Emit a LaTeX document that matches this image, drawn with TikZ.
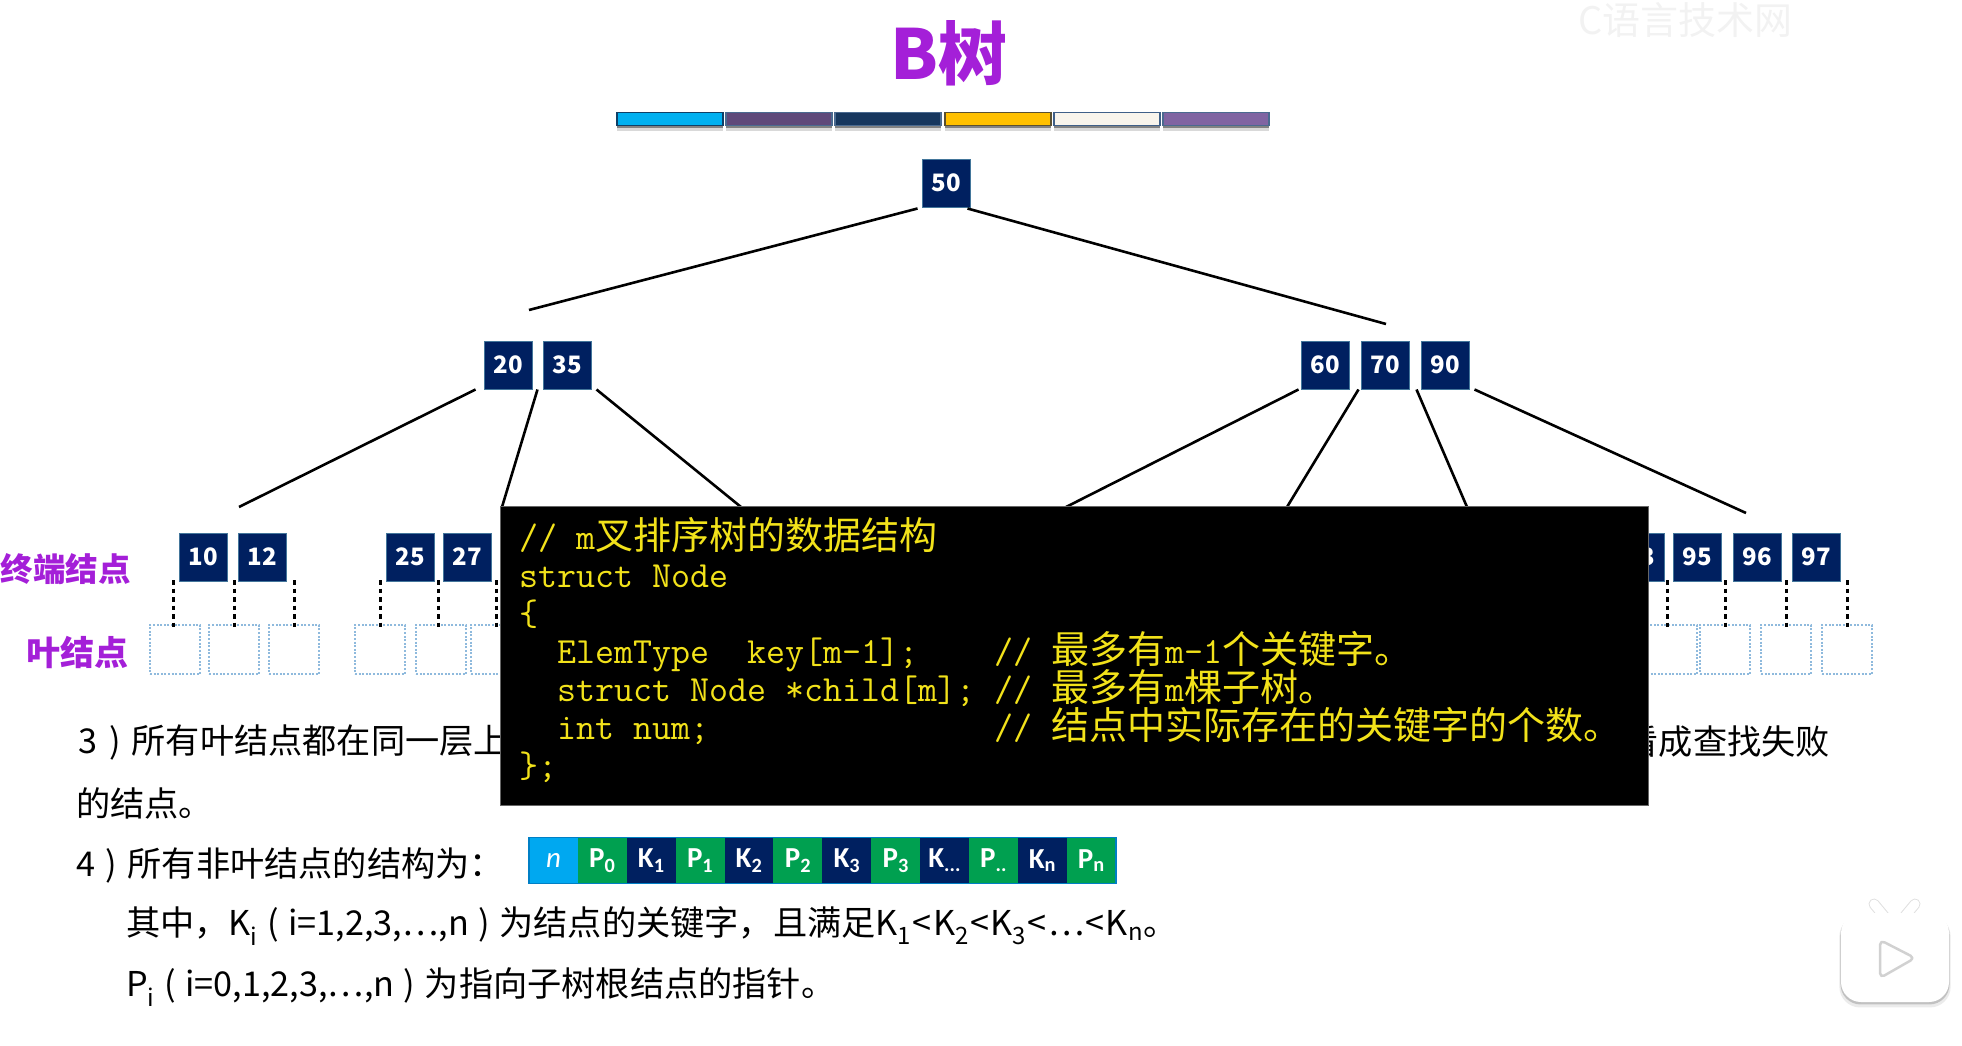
\documentclass[tikz,border=0pt]{standalone}
\usepackage{fontspec}
\setmainfont{Noto Sans CJK SC}
\newfontfamily\calib{Carlito}
\usetikzlibrary{shadows}
\definecolor{keynavy}{HTML}{002060}
\definecolor{titlepurple}{HTML}{A41FD8}
\definecolor{codeyellow}{HTML}{F2E21A}
\definecolor{leafblue}{HTML}{8FBADD}
\definecolor{ptrgreen}{HTML}{00A050}
\definecolor{cntblue}{HTML}{00A8F0}
\newcommand{\fs}[1]{\fontsize{#1}{#1}\selectfont}
\newcommand{\zh}[1]{{\fs{38}\rmfamily #1}}
\newcommand{\codefont}{\fontsize{36.9}{38}\selectfont\ttfamily\lineskiplimit=-100pt\relax}
\newcommand{\lp}{\kern9.5pt(\kern9.5pt}
\newcommand{\rp}{\kern9.5pt)\kern9.5pt}
\newcommand{\ltk}{\kern1.3pt<\kern1.3pt}
\tikzset{
	key/.style={draw=cyan!40!keynavy,line width=1pt,fill=keynavy,text=white,minimum size=48pt,inner sep=0pt,font=\fs{24}\bfseries},
	leaf/.style={draw=leafblue,line width=2.2pt,dash pattern=on 2pt off 1.6pt,minimum width=50pt,minimum height=49pt,inner sep=0pt},
	edge/.style={line width=2.6pt,black},
	stub/.style={line width=3pt,dash pattern=on 4.5pt off 4pt},
	barseg/.style={minimum width=106pt,minimum height=13pt,inner sep=0pt,line width=1.2pt,
		general shadow={shadow xshift=0pt,shadow yshift=-6pt,fill=black,opacity=.15},
		general shadow={shadow xshift=0pt,shadow yshift=-3pt,fill=black,opacity=.4}},
	cell/.style={minimum width=49pt,minimum height=46pt,inner sep=0pt,text=white,font=\fs{29}\calib\bfseries},
	label/.style={anchor=east,text=titlepurple,font=\fs{34}\bfseries,inner sep=0pt},
	body/.style={anchor=west,font=\fs{34.2},inner sep=0pt,text=black}
}
\begin{document}
\begin{tikzpicture}[x=1pt,y=-1pt]
	\useasboundingbox (0,0) rectangle (1962,1046);
	\node[text=black!5,font=\fs{38},inner sep=0pt,anchor=west] (mark) at (1578,20) {C语言技术网};
	\node[text=titlepurple,font=\fs{69}\bfseries,inner sep=0pt] (title) at (949,53) {B树};
	% colour bar
	\foreach \x/\f/\d [count=\i] in {670/00B0F0/0F3F66,779/5F497A/4A6A90,888/17375E/4A6A90,998/FFC000/5A5030,1107/F8F4EC/3F5F88,1216/8064A2/4A6A90}{
		\definecolor{barfill}{HTML}{\f}
		\definecolor{bardraw}{HTML}{\d}
		\node[barseg,fill=barfill,draw=bardraw] (bar\i) at (\x,119) {};
	}
	% keys
	\foreach \x/\y/\t in {946/183/50,508/365/20,567/365/35,1325/365/60,1385/365/70,1445/365/90,
			203/557/10,262/557/12,410/557/25,467/557/27,1640/557/93,1697/557/95,1757/557/96,1816/557/97}{
		\node[key] (n\t) at (\x,\y) {\t};
	}
	% free ends of the edges
	\coordinate (to2035) at (529,310);
	\coordinate (to6070) at (1386,324);
	\coordinate (to1012) at (239,507);
	\coordinate (to2527) at (502,507);
	\coordinate (toA) at (741,507);
	\coordinate (toB) at (1066,507);
	\coordinate (toC) at (1287,507);
	\coordinate (toD) at (1467,507);
	\coordinate (to9597) at (1746,513);
	\draw[edge] ([shift={(-4pt,-1pt)}]n50.south west) -- (to2035);
	\draw[edge] ([shift={(-3pt,-1pt)}]n50.south east) -- (to6070);
	\draw[edge] ([shift={(-8pt,0pt)}]n20.south west) -- (to1012);
	\draw[edge] ([shift={(-5pt,0pt)}]n35.south west) -- (to2527);
	\draw[edge] ([shift={(5pt,0pt)}]n35.south east) -- (toA);
	\draw[edge] ([shift={(-2pt,0pt)}]n60.south west) -- (toB);
	\draw[edge] ([shift={(-2pt,0pt)}]n70.south west) -- (toC);
	\draw[edge] ([shift={(-4pt,0pt)}]n90.south west) -- (toD);
	\draw[edge] ([shift={(5pt,0pt)}]n90.south east) -- (to9597);
	% leaves
	\foreach \x/\s in {175/173,234/234,294/294,380/380,441/438,496/496,1672/1667,1725/1725,1786/1786,1847/1847}{
		\node[leaf] (leaf\x) at (\x,649.5) {};
		\coordinate (up\x) at (\s,580);
		\draw[stub] (up\x) -- (\s,627) coordinate (dn\x);
	}
	\node[label,font=\fs{32.5}\bfseries] (lbl1) at (131,569) {终端结点};
	\node[label] (lbl2) at (129,652) {叶结点};
	% text
	\node[body] (t3) at (78,742) {3\kern12pt)\kern11pt所有叶结点都在同一层上};
	\node[body,anchor=east] (t3b) at (1830,742) {看成查找失败};
	\node[body] (t3c) at (76,803) {的结点。};
	\node[body] (t4) at (76,865) {4\kern10pt)\kern11pt所有非叶结点的结构为：};
	\node[body] (t5) at (126,926) {其中，K\textsubscript{i}\lp i=1,2,3,…,n\rp 为结点的关键字，且满足K\textsubscript{1}\ltk K\textsubscript{2}\ltk K\textsubscript{3}\ltk …\ltk K\textsubscript{n}。};
	\node[body] (t6) at (126,987) {P\textsubscript{i}\lp i=0,1,2,3,…,n\rp 为指向子树根结点的指针。};
	% node layout strip
	\foreach \c/\t [count=\i] in {cntblue/{\mdseries\itshape n},ptrgreen/P\textsubscript{0},keynavy/K\textsubscript{1},ptrgreen/P\textsubscript{1},keynavy/K\textsubscript{2},ptrgreen/P\textsubscript{2},keynavy/K\textsubscript{3},ptrgreen/P\textsubscript{3},keynavy/K\textsubscript{...},ptrgreen/P\textsubscript{..},keynavy/K\textsubscript{n},ptrgreen/P\textsubscript{n}}{
		\node[cell,fill=\c] (f\i) at ({529+24.45+48.9*(\i-1)},860.5) {\t};
	}
	\draw[cntblue!70!keynavy,line width=1.5pt] (f1.north west) rectangle (f12.south east);
	% code window
	\node[fill=black,draw=black!60,anchor=north west,minimum width=1148pt,minimum height=299pt,inner sep=0pt] (code) at (500,506) {};
	\node[anchor=north west,inner sep=0pt,text=codeyellow,align=left,font=\codefont] (src) at (519,517) {%
		//~m\zh{叉排序树的数据结构}\\
		struct~Node\\
		\{\\
		~~ElemType~~key[m-1];~~~~//~\zh{最多有}m-1\zh{个关键字。}\\
		~~struct~Node~*child[m];~//~\zh{最多有}m\zh{棵子树。}\\
		~~int~num;~~~~~~~~~~~~~~~//~\zh{结点中实际存在的关键字的个数。}\\
		\};};
	% player badge
	\draw[draw=black!12,line width=11pt,line cap=round] (1874,904) -- (1884,916) (1915,904) -- (1905,916);
	\draw[draw=white,line width=9pt,line cap=round] (1874,904) -- (1884,916) (1915,904) -- (1905,916);
	\node[fill=white,rounded corners=20pt,minimum width=108pt,minimum height=89pt,inner sep=0pt,
		general shadow={shadow xshift=0pt,shadow yshift=-4pt,shadow scale=1.03,fill=black,opacity=.08},
		general shadow={shadow xshift=0pt,shadow yshift=-2pt,shadow scale=1.01,fill=black,opacity=.18}] (badge) at (1895,957.5) {};
	\filldraw[draw=black!18,fill=white,line width=2.5pt,line join=round,rounded corners=5pt] (1880,940) -- (1915,958) -- (1880,978) -- cycle;
\end{tikzpicture}
\end{document}
